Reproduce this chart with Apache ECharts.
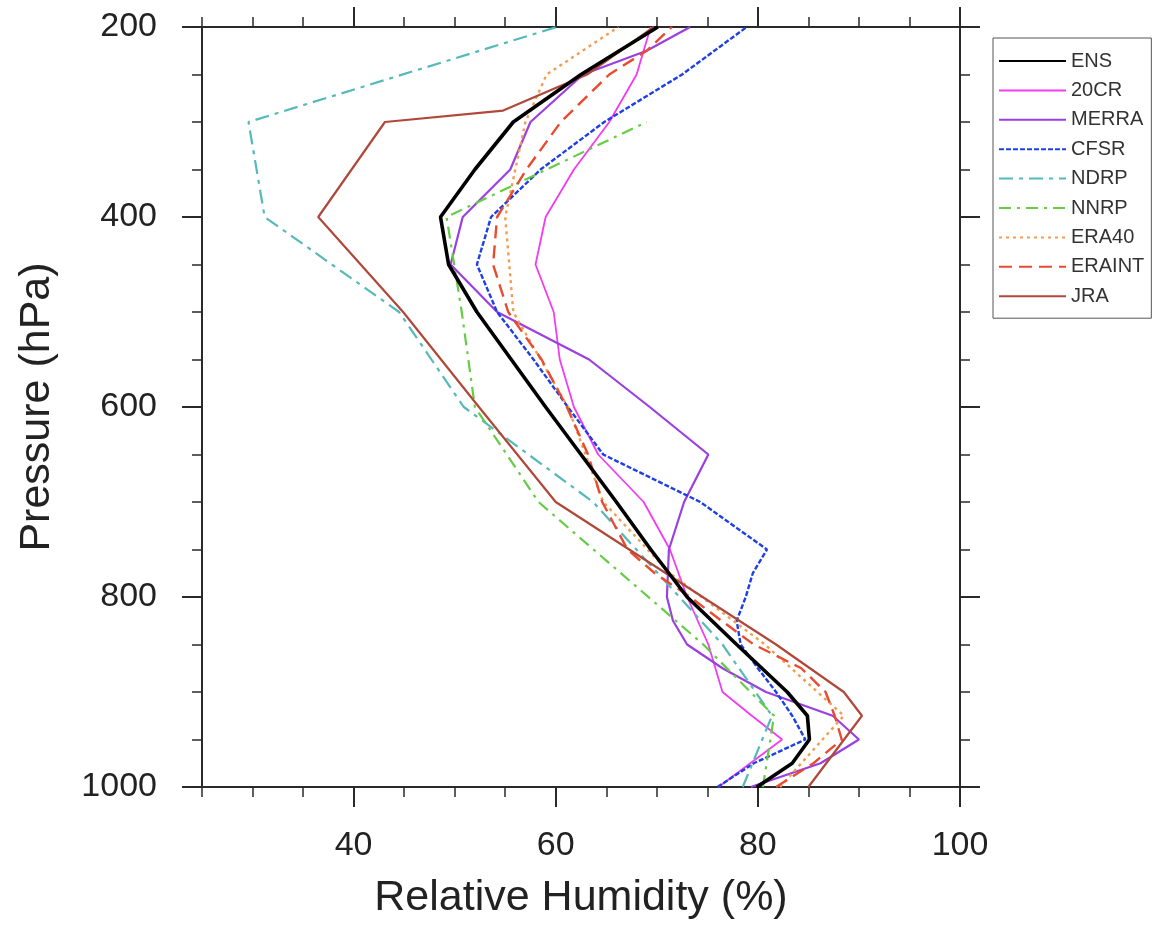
<!DOCTYPE html>
<html>
<head>
<meta charset="utf-8">
<script src="https://cdn.jsdelivr.net/npm/echarts@6/dist/echarts.min.js"></script>
<style>
html,body{margin:0;padding:0;background:#fff;}
#chart{width:1153px;height:925px;}
</style>
</head>
<body>
<div id="chart"></div>
<script>
// ---- data (relative humidity %, at pressure levels hPa) ----
const seriesNames = ['ENS','20CR','MERRA','CFSR','NDRP','NNRP','ERA40','ERAINT','JRA'];

const ensP  = [1000,975,950,925,900,850,800,750,700,650,600,550,500,450,400,350,300,250,200];
const ensRH = [79.9,83.4,85.1,84.9,82.9,77.9,73.0,69.4,66.0,62.5,59.0,55.6,52.2,49.4,48.6,52.0,55.8,62.5,70.1];

const cr20P  = [1000,950,925,900,850,800,750,700,650,600,550,500,450,400,350,300,250,200];
const cr20RH = [76.1,82.4,79.4,76.5,75.1,73.0,71.3,68.7,64.2,61.8,60.4,59.8,58.0,59.0,61.8,65.3,68.0,69.4];

const merraP  = [1000,975,950,925,900,875,850,825,800,750,700,650,600,550,500,450,400,350,300,250,225,200];
const merraRH = [79.3,86.2,90.0,87.4,80.8,76.5,73.0,71.6,71.0,71.2,72.7,75.1,69.3,63.3,54.2,49.6,50.8,55.5,57.5,62.7,69.0,73.3];

const cfsrP  = [1000,975,950,925,900,875,850,825,800,775,750,700,650,600,550,500,450,400,350,300,250,200];
const cfsrRH = [76.0,79.6,84.7,83.4,81.8,80.0,78.3,77.9,78.8,79.5,80.9,74.3,64.7,61.2,57.8,54.2,52.2,53.6,58.5,64.8,72.5,78.9];

const ndrpP  = [1000,925,850,700,600,500,400,300,200];
const ndrpRH = [78.5,81.4,76.5,63.7,50.9,44.5,31.2,29.6,60.1];

const nnrpP  = [1000,925,850,700,600,500,400,300];
const nnrpRH = [80.5,81.6,74.6,58.3,52.0,50.7,49.2,69.0];

const era40P  = [1000,925,850,775,700,600,500,400,300,250,200];
const era40RH = [82.2,88.5,80.7,71.3,64.7,61.2,55.8,55.0,57.0,59.1,66.2];

const eraintP  = [1000,975,950,925,900,875,850,825,800,775,750,700,650,600,550,500,450,400,350,300,250,225,200];
const eraintRH = [81.8,85.5,88.3,87.6,86.7,84.3,79.6,76.4,73.3,69.8,67.1,64.6,63.2,61.1,58.6,55.3,53.8,54.2,57.1,60.5,65.3,69.0,71.5];

const jraP  = [1000,925,900,850,700,600,500,400,300,288,250,200];
const jraRH = [85.0,90.3,88.5,81.8,60.0,52.4,44.9,36.5,43.1,54.8,63.1,69.7];

// ---- ticks ----
const xMajorTicks = [40,60,80,100];
const xMinorTicks = [25,30,35,40,45,50,55,60,65,70,75,80,85,90,95,100];
const yMajorTicks = [200,400,600,800,1000];
const yMinorTicks = [200,250,300,350,400,450,500,550,600,650,700,750,800,850,900,950,1000];

const FONT = '"Liberation Sans", Arial, Helvetica, sans-serif';
const AX = '#2a2a2a';

function pairs(rh, p){ return rh.map((v,i)=>[v,p[i]]); }

const styles = {
  'ENS':    {color:'#000000', width:3.6, type:'solid'},
  '20CR':   {color:'#f23cf2', width:1.8, type:'solid'},
  'MERRA':  {color:'#9b3fe0', width:2.2, type:'solid'},
  'CFSR':   {color:'#1e3fe6', width:2.4, type:[5,2]},
  'NDRP':   {color:'#55b9b9', width:2.2, type:[14,6,4,6]},
  'NNRP':   {color:'#66cc44', width:2.2, type:[12,6,3,6]},
  'ERA40':  {color:'#f39c4e', width:2.4, type:[3,4]},
  'ERAINT': {color:'#e84b2f', width:2.4, type:[13,7]},
  'JRA':    {color:'#b0483a', width:2.2, type:'solid'}
};
const dataMap = {
  'ENS': pairs(ensRH, ensP),
  '20CR': pairs(cr20RH, cr20P),
  'MERRA': pairs(merraRH, merraP),
  'CFSR': pairs(cfsrRH, cfsrP),
  'NDRP': pairs(ndrpRH, ndrpP),
  'NNRP': pairs(nnrpRH, nnrpP),
  'ERA40': pairs(era40RH, era40P),
  'ERAINT': pairs(eraintRH, eraintP),
  'JRA': pairs(jraRH, jraP)
};

const gridBox = {left:202, right:193, top:27, bottom:138};
const grids = [0,1,2,3].map(()=>Object.assign({}, gridBox));

function xAxis(gridIndex, position, ticks, len, showLine, showLabel, name){
  return {
    type:'value', gridIndex, position, min:25, max:100,
    axisLine:{show:showLine, onZero:false, lineStyle:{color:AX, width:2}},
    axisTick:{show:true, inside:false, customValues:ticks, length:len, lineStyle:{color:AX, width:len>12?2:1.5}},
    axisLabel:{show:showLabel, customValues:xMajorTicks, margin:42, fontSize:34, color:'#222', fontFamily:FONT,
               formatter:v=>String(v)},
    splitLine:{show:false},
    name: name || '', nameLocation:'middle', nameGap:90,
    nameTextStyle:{fontSize:43, color:'#222', fontFamily:FONT}
  };
}
function yAxis(gridIndex, position, ticks, len, showLine, showLabel, name){
  return {
    type:'value', gridIndex, position, min:200, max:1000, inverse:true,
    axisLine:{show:showLine, onZero:false, lineStyle:{color:AX, width:2}},
    axisTick:{show:true, inside:false, customValues:ticks, length:len, lineStyle:{color:AX, width:len>12?2:1.5}},
    axisLabel:{show:showLabel, customValues:yMajorTicks, margin:45, fontSize:34, color:'#222', fontFamily:FONT,
               formatter:v=>String(v)},
    splitLine:{show:false},
    name: name || '', nameLocation:'middle', nameGap:143, nameRotate:90,
    nameTextStyle:{fontSize:43, color:'#222', fontFamily:FONT}
  };
}

const option = {
  animation:false,
  backgroundColor:'#fff',
  grid: grids,
  xAxis: [
    xAxis(0,'bottom',xMajorTicks,20,true,true,'Relative Humidity (%)'),
    xAxis(1,'top',xMajorTicks,20,true,false),
    xAxis(2,'bottom',xMinorTicks,10,false,false),
    xAxis(3,'top',xMinorTicks,10,false,false)
  ],
  yAxis: [
    yAxis(0,'left',yMajorTicks,20,true,true,'Pressure (hPa)'),
    yAxis(1,'right',yMajorTicks,20,true,false),
    yAxis(2,'left',yMinorTicks,10,false,false),
    yAxis(3,'right',yMinorTicks,10,false,false)
  ],
  legend: {
    orient:'vertical', left:993, top:38,
    data: seriesNames,
    itemWidth:67, itemHeight:14, itemGap:9.4,
    padding:[13,7,12,5],
    borderColor:'#555', borderWidth:1,
    itemStyle:{opacity:0},
    textStyle:{fontSize:20, color:'#333', fontFamily:FONT},
    selectedMode:false
  },
  series: seriesNames.map(n=>({
    name:n, type:'line', xAxisIndex:0, yAxisIndex:0,
    data:dataMap[n], symbol:'none', showSymbol:false,
    z: n==='ENS'?5:2,
    lineStyle:{color:styles[n].color, width:styles[n].width, type:styles[n].type},
    itemStyle:{color:styles[n].color},
    emphasis:{disabled:true}
  }))
};

const chart = echarts.init(document.getElementById('chart'), null, {renderer:'canvas'});
chart.setOption(option);
</script>
</body>
</html>
